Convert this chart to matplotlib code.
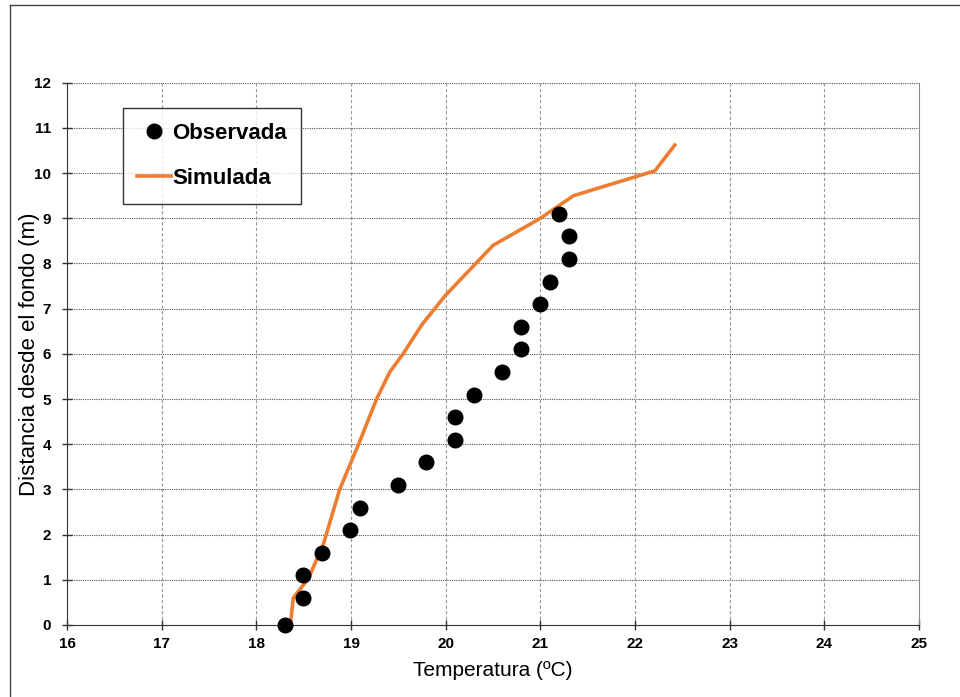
import matplotlib.pyplot as plt
from matplotlib.lines import Line2D

# observed profile
obs_temp = [18.30, 18.49, 18.49, 18.69, 18.99, 19.09, 19.50, 19.79, 20.10, 20.10,
            20.30, 20.60, 20.80, 20.80, 21.00, 21.10, 21.30, 21.30, 21.20]
obs_depth = [0.0, 0.6, 1.1, 1.6, 2.1, 2.6, 3.1, 3.6, 4.1, 4.6,
             5.1, 5.6, 6.1, 6.6, 7.1, 7.6, 8.1, 8.6, 9.1]

# simulated profile
sim_temp = [18.36, 18.39, 18.55, 18.71, 18.88, 19.08, 19.27, 19.41, 19.55, 19.75,
            20.00, 20.50, 21.00, 21.35, 22.21, 22.42]
sim_depth = [0.0, 0.6, 1.03, 1.8, 3.0, 4.0, 5.0, 5.6, 6.0, 6.65,
             7.3, 8.4, 9.0, 9.5, 10.05, 10.62]

xticks = list(range(16, 26))
yticks = list(range(0, 13))

plt.rcParams['font.family'] = ['Liberation Sans', 'DejaVu Sans']

fig = plt.figure(figsize=(9.6, 6.97), dpi=100)
ax = fig.add_axes([0.0698, 0.1033, 0.8875, 0.778])

# outer chart frame (only left/top edges are visible)
fig.add_artist(Line2D([10/960, 10/960], [0, 1 - 5/697], color='#444444', lw=1))
fig.add_artist(Line2D([10/960, 1], [1 - 5/697, 1 - 5/697], color='#444444', lw=1))

ax.plot(sim_temp, sim_depth, color='#ED7D31', lw=2.6, label='Simulada', zorder=3)
ax.plot(obs_temp, obs_depth, 'o', color='black', ms=10.5, label='Observada', zorder=4,
        clip_on=False)

ax.set_xlim(16, 25)
ax.set_ylim(0, 12)
ax.set_xticks(xticks)
ax.set_yticks(yticks)

for y in yticks[1:]:
    ax.axhline(y, color='#555555', lw=0.8, ls=(0, (1, 1)), zorder=1)
for x in xticks[1:-1]:
    ax.axvline(x, color='#999999', lw=0.8, ls=(0, (3, 2)), zorder=1)

ax.spines['left'].set_color('#333333')
ax.spines['bottom'].set_color('#333333')
ax.spines['top'].set_visible(False)
ax.spines['right'].set_color('#888888')

ax.tick_params(direction='inout', length=7, width=1, color='#333333',
               labelsize=11, pad=5)
ax.tick_params(axis='y', pad=8)
for lbl in ax.get_xticklabels() + ax.get_yticklabels():
    lbl.set_fontweight('bold')

ax.set_xlabel('Temperatura (ºC)', fontsize=15, labelpad=7)
ax.set_ylabel('Distancia desde el fondo (m)', fontsize=16, labelpad=-4)

h, l = ax.get_legend_handles_labels()
leg = ax.legend(h[::-1], l[::-1], loc='upper left', bbox_to_anchor=(0.0657, 0.953),
                borderaxespad=0, frameon=True, fancybox=False, edgecolor='black',
                prop={'weight': 'bold', 'size': 16}, labelspacing=1.1,
                handlelength=1.5, handletextpad=0.05, borderpad=0.65)
leg.get_frame().set_linewidth(1)

plt.savefig('out.png', dpi=100)
